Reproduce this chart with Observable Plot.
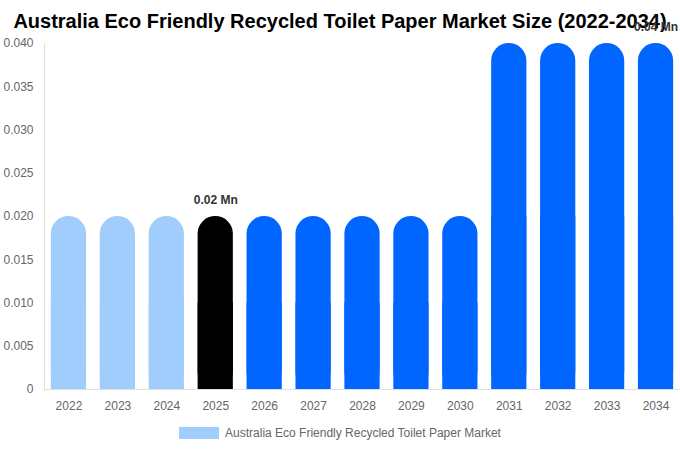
<!DOCTYPE html>
<html>
<head>
<meta charset="utf-8">
<script src="https://cdn.jsdelivr.net/npm/d3@7"></script>
<script src="https://cdn.jsdelivr.net/npm/@observablehq/plot@0.6"></script>
<style>
  html, body { margin: 0; padding: 0; background: #fff; width: 680px; height: 450px; overflow: hidden; font-family: "Liberation Sans", Arial, sans-serif; }
  #title { height: 36px; line-height: 42px; text-align: center; font-size: 20px; font-weight: bold; color: #000; white-space: nowrap; position: relative; z-index: 1; }
  #chart { position: relative; z-index: 2; margin-top: 0; }
  #legend { height: 34px; display: flex; justify-content: center; align-items: center; font-size: 12px; color: #666; }
  #legend .sw { width: 40px; height: 12px; margin-right: 6px; }
</style>
</head>
<body>
<div id="title">Australia Eco Friendly Recycled Toilet Paper Market Size (2022-2034)</div>
<div id="chart"></div>
<div id="legend"><span class="sw"></span><span id="legtext"></span></div>
<script>
const years = ["2022","2023","2024","2025","2026","2027","2028","2029","2030","2031","2032","2033","2034"];
const values = [0.02,0.02,0.02,0.02,0.02,0.02,0.02,0.02,0.02,0.04,0.04,0.04,0.04];
const colors = ["#a0cdfb","#a0cdfb","#a0cdfb","#000000","#0066ff","#0066ff","#0066ff","#0066ff","#0066ff","#0066ff","#0066ff","#0066ff","#0066ff"];
const labelYears = ["2025","2034"];
const labelTexts = ["0.02 Mn","0.04 Mn"];
const yTicks = [0,0.005,0.010,0.015,0.020,0.025,0.030,0.035,0.040];
const seriesName = "Australia Eco Friendly Recycled Toilet Paper Market";

const data = years.map((y, i) => ({year: y, value: values[i], color: colors[i]}));
const labels = labelYears.map((y, i) => ({year: y, value: values[years.indexOf(y)], text: labelTexts[i]}));

document.querySelector("#legend .sw").style.background = colors[0];
document.getElementById("legtext").textContent = seriesName;

const W = 680, H = 380;
const mL = 44, mR = 0, mT = 7, mB = 27;
const pIn = 0.28, pOut = 0.14;
const bandStep = (W - mL - mR) / (years.length - pIn + 2 * pOut);
const barW = bandStep * (1 - pIn);

const chart = Plot.plot({
  width: W,
  height: H,
  marginLeft: mL,
  marginRight: mR,
  marginTop: mT,
  marginBottom: mB,
  style: {fontFamily: "'Liberation Sans', Arial, sans-serif", fontSize: "12px", color: "#666", background: "transparent", overflow: "visible"},
  x: {domain: years, paddingInner: pIn, paddingOuter: pOut, round: false, label: null, tickSize: 0, tickPadding: 12},
  y: {domain: [0, 0.04], ticks: yTicks, label: null, tickSize: 0, tickPadding: 11, tickFormat: d => d === 0 ? "0" : d3.format(".3f")(d)},
  marks: [
    Plot.barY(data, {x: "year", y: "value", fill: "color", rx: barW / 2}),
    Plot.barY(data, {x: "year", y1: 0, y2: d => d.value / 2, fill: "color"}),
    Plot.ruleX([0], {x: () => years[0], dx: -bandStep / 2, stroke: "#e0e0e0"}),
    Plot.ruleY([0], {stroke: "#e0e0e0"}),
    Plot.text(labels, {x: "year", y: "value", text: "text", dy: -16, fontWeight: "bold", fill: "#333", fontSize: 12})
  ]
});
document.getElementById("chart").appendChild(chart);
</script>
</body>
</html>
